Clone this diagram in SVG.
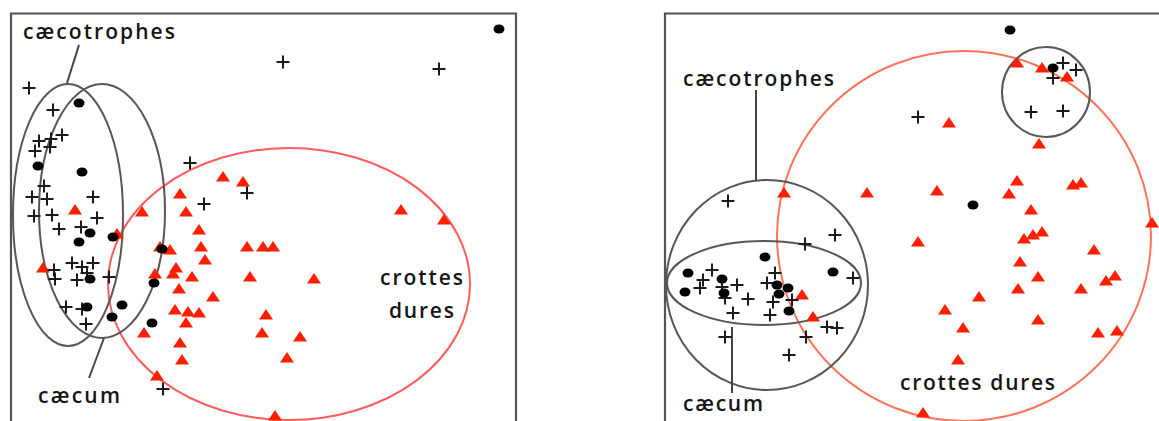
<svg xmlns="http://www.w3.org/2000/svg" xmlns:xlink="http://www.w3.org/1999/xlink" width="1159" height="421" viewBox="0 0 1159 421">
<style>
.frame{fill:none;stroke:#555;stroke-width:2.2}
.grey{fill:none;stroke:#5a5656;stroke-width:2}
.red{fill:none;stroke:#ff5c5c;stroke-width:2}
.orange{fill:none;stroke:#ff7358;stroke-width:2}
.lead{fill:none;stroke:#444;stroke-width:2}
.lbl{font-family:"Open Sans","Liberation Sans",sans-serif;font-weight:600;font-size:21px;fill:#151515}
.t{fill:#ff1e00}
.p{fill:none;stroke:#1a1a1a;stroke-width:2}
.d{fill:#000}
</style>
<defs>
<path id="t" d="M-7,4.5 L0,-6 L7,4.5 Z"/>
<path id="p" d="M-6.5,0H6.5M0,-6.5V6.5"/>
<ellipse id="d" rx="5.5" ry="4.5"/>
</defs>
<rect width="1159" height="421" fill="#fff"/>
<g id="frames">
<path class="frame" d="M11,421V13.5H516V421"/>
<path class="frame" d="M665,421V13.5H1159"/>
</g>
<g id="left-groups">
<ellipse id="crottes-left" class="red" cx="289" cy="284" rx="181" ry="136"/>
<ellipse id="caecotrophes-left" class="grey" cx="68" cy="215" rx="55" ry="131"/>
<ellipse id="caecum-left" class="grey" cx="102" cy="211" rx="63" ry="127"/>
</g>
<g id="right-groups">
<ellipse id="crottes-right" class="orange" cx="964" cy="236" rx="187" ry="185"/>
<ellipse id="caecotrophes-right" class="grey" cx="767" cy="285" rx="101" ry="105"/>
<ellipse id="caecum-right" class="grey" cx="764" cy="283" rx="97" ry="42"/>
<ellipse id="top-right" class="grey" cx="1046" cy="92" rx="44" ry="45"/>
</g>
<g id="connectors">
<path class="lead" d="M79,45L67,83"/>
<path class="lead" d="M89,378L104,338"/>
<path class="lead" d="M756,90V180"/>
<path class="lead" d="M732,327V393"/>
</g>
<g id="left-triangles" class="t">
<use href="#t" x="223" y="177"/><use href="#t" x="243" y="182"/><use href="#t" x="180" y="194"/>
<use href="#t" x="75" y="210"/><use href="#t" x="142" y="212"/><use href="#t" x="186" y="212"/>
<use href="#t" x="401" y="210"/><use href="#t" x="444" y="220"/>
<use href="#t" x="199" y="230"/><use href="#t" x="117" y="234"/>
<use href="#t" x="160" y="247"/><use href="#t" x="170" y="250"/><use href="#t" x="201" y="247"/>
<use href="#t" x="247" y="247"/><use href="#t" x="263" y="247"/><use href="#t" x="273" y="247"/>
<use href="#t" x="205" y="260"/><use href="#t" x="43" y="268"/>
<use href="#t" x="176" y="268"/><use href="#t" x="173" y="274"/><use href="#t" x="155" y="274"/>
<use href="#t" x="192" y="277"/><use href="#t" x="250" y="277"/><use href="#t" x="314" y="279"/>
<use href="#t" x="179" y="289"/><use href="#t" x="213" y="297"/>
<use href="#t" x="175" y="310"/><use href="#t" x="188" y="312"/><use href="#t" x="199" y="313"/>
<use href="#t" x="266" y="315"/><use href="#t" x="186" y="323"/><use href="#t" x="144" y="333"/>
<use href="#t" x="262" y="333"/><use href="#t" x="300" y="337"/><use href="#t" x="180" y="343"/>
<use href="#t" x="182" y="360"/><use href="#t" x="287" y="358"/><use href="#t" x="157" y="376"/>
<use href="#t" x="275" y="416"/>
</g>
<g id="left-plus" class="p">
<use href="#p" x="283" y="62"/><use href="#p" x="439" y="69"/>
<use href="#p" x="29" y="88"/><use href="#p" x="53" y="110"/>
<use href="#p" x="39" y="141"/><use href="#p" x="51" y="139"/><use href="#p" x="62" y="135"/>
<use href="#p" x="35" y="151"/><use href="#p" x="50" y="147"/>
<use href="#p" x="190" y="163"/><use href="#p" x="44" y="186"/><use href="#p" x="247" y="193"/>
<use href="#p" x="32" y="197"/><use href="#p" x="47" y="199"/><use href="#p" x="93" y="197"/>
<use href="#p" x="204" y="204"/>
<use href="#p" x="34" y="216"/><use href="#p" x="52" y="215"/><use href="#p" x="97" y="218"/>
<use href="#p" x="59" y="229"/><use href="#p" x="81" y="227"/>
<use href="#p" x="72" y="263"/><use href="#p" x="82" y="267"/><use href="#p" x="93" y="263"/>
<use href="#p" x="54" y="270"/><use href="#p" x="55" y="279"/><use href="#p" x="77" y="280"/>
<use href="#p" x="87" y="273"/><use href="#p" x="109" y="277"/>
<use href="#p" x="66" y="307"/><use href="#p" x="82" y="309"/><use href="#p" x="86" y="324"/>
<use href="#p" x="163" y="389"/>
</g>
<g id="left-dots" class="d">
<use href="#d" x="499" y="29"/><use href="#d" x="79" y="103"/><use href="#d" x="38" y="166"/>
<use href="#d" x="82" y="172"/><use href="#d" x="90" y="233"/><use href="#d" x="79" y="242"/>
<use href="#d" x="113" y="237"/><use href="#d" x="162" y="249"/><use href="#d" x="90" y="279"/>
<use href="#d" x="154" y="283"/><use href="#d" x="87" y="307"/><use href="#d" x="122" y="305"/>
<use href="#d" x="112" y="317"/><use href="#d" x="152" y="323"/>
</g>
<g id="right-triangles" class="t">
<use href="#t" x="1017" y="63"/><use href="#t" x="1042" y="68"/><use href="#t" x="1067" y="77"/>
<use href="#t" x="949" y="123"/><use href="#t" x="1039" y="144"/>
<use href="#t" x="1017" y="181"/><use href="#t" x="1073" y="185"/><use href="#t" x="1081" y="183"/>
<use href="#t" x="937" y="191"/><use href="#t" x="1009" y="194"/><use href="#t" x="784" y="193"/>
<use href="#t" x="867" y="193"/><use href="#t" x="1031" y="210"/><use href="#t" x="1152" y="223"/>
<use href="#t" x="918" y="242"/><use href="#t" x="1024" y="239"/><use href="#t" x="1033" y="235"/>
<use href="#t" x="1042" y="232"/><use href="#t" x="1094" y="250"/><use href="#t" x="1020" y="262"/>
<use href="#t" x="1038" y="277"/><use href="#t" x="1106" y="281"/><use href="#t" x="1115" y="276"/>
<use href="#t" x="1018" y="289"/><use href="#t" x="1081" y="289"/><use href="#t" x="979" y="297"/>
<use href="#t" x="945" y="310"/><use href="#t" x="1038" y="320"/><use href="#t" x="963" y="328"/>
<use href="#t" x="1098" y="333"/><use href="#t" x="1117" y="331"/><use href="#t" x="958" y="360"/>
<use href="#t" x="923" y="413"/><use href="#t" x="802" y="295"/><use href="#t" x="813" y="317"/>
</g>
<g id="right-plus" class="p">
<use href="#p" x="1063" y="63"/><use href="#p" x="1076" y="70"/><use href="#p" x="1053" y="78"/>
<use href="#p" x="1031" y="112"/><use href="#p" x="1063" y="111"/><use href="#p" x="918" y="117"/>
<use href="#p" x="728" y="201"/><use href="#p" x="835" y="235"/><use href="#p" x="805" y="244"/>
<use href="#p" x="853" y="278"/><use href="#p" x="712" y="270"/><use href="#p" x="703" y="280"/>
<use href="#p" x="700" y="288"/><use href="#p" x="722" y="287"/><use href="#p" x="725" y="298"/>
<use href="#p" x="737" y="285"/><use href="#p" x="748" y="299"/><use href="#p" x="733" y="313"/>
<use href="#p" x="775" y="273"/><use href="#p" x="767" y="283"/><use href="#p" x="773" y="302"/>
<use href="#p" x="770" y="315"/><use href="#p" x="792" y="300"/><use href="#p" x="827" y="327"/>
<use href="#p" x="837" y="328"/><use href="#p" x="806" y="337"/><use href="#p" x="725" y="337"/>
<use href="#p" x="789" y="355"/>
</g>
<g id="right-dots" class="d">
<use href="#d" x="1010" y="30"/><use href="#d" x="1053" y="68"/><use href="#d" x="973" y="205"/>
<use href="#d" x="765" y="257"/><use href="#d" x="833" y="272"/><use href="#d" x="688" y="273"/>
<use href="#d" x="685" y="292"/><use href="#d" x="722" y="279"/><use href="#d" x="724" y="293"/>
<use href="#d" x="777" y="285"/><use href="#d" x="788" y="288"/><use href="#d" x="779" y="294"/>
<use href="#d" x="789" y="311"/>
</g>
<g id="labels" class="lbl">
<text x="23" y="39" textLength="152" lengthAdjust="spacing">cæcotrophes</text>
<text x="38" y="403" textLength="82" lengthAdjust="spacing">cæcum</text>
<text x="380" y="285" textLength="83" lengthAdjust="spacing">crottes</text>
<text x="389" y="318" textLength="65" lengthAdjust="spacing">dures</text>
<text x="683" y="86" textLength="151" lengthAdjust="spacing">cæcotrophes</text>
<text x="683" y="411" textLength="80" lengthAdjust="spacing">cæcum</text>
<text x="900" y="390" textLength="155" lengthAdjust="spacing">crottes dures</text>
</g>
</svg>
